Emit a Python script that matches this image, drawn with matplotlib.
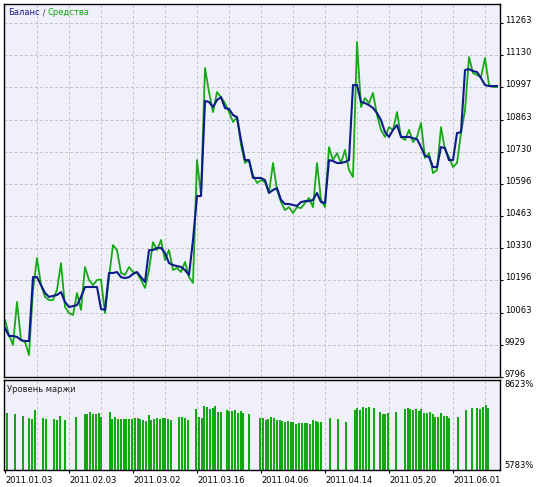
import numpy as np
import matplotlib
matplotlib.use("Agg")
import matplotlib.pyplot as plt
from matplotlib.offsetbox import TextArea, HPacker, AnchoredOffsetbox

# balance / equity, one value per point
balance = [9999, 9966, 9966, 9962, 9949, 9945, 9945, 10210, 10210, 10177,
           10144, 10128, 10132, 10136, 10148, 10107, 10086, 10090, 10094, 10128,
           10169, 10169, 10169, 10169, 10078, 10074, 10227, 10227, 10231, 10210,
           10206, 10210, 10223, 10231, 10210, 10190, 10322, 10322, 10331, 10331,
           10310, 10268, 10260, 10256, 10252, 10239, 10219, 10364, 10546, 10546,
           10940, 10936, 10915, 10944, 10956, 10911, 10907, 10882, 10873, 10778,
           10695, 10695, 10621, 10621, 10621, 10612, 10559, 10571, 10579, 10530,
           10513, 10513, 10509, 10505, 10521, 10525, 10525, 10530, 10559, 10521,
           10517, 10695, 10691, 10683, 10683, 10687, 10695, 11006, 11006, 10936,
           10931, 10923, 10911, 10890, 10861, 10811, 10791, 10820, 10840, 10791,
           10791, 10791, 10786, 10782, 10749, 10712, 10708, 10666, 10666, 10749,
           10745, 10695, 10695, 10807, 10811, 11068, 11072, 11064, 11060, 11035,
           11006, 11002, 11002, 11002]
equity = [10032, 9970, 9929, 10107, 9949, 9941, 9887, 10157, 10289, 10177,
          10128, 10115, 10115, 10157, 10268, 10086, 10061, 10053, 10144, 10074,
          10252, 10198, 10177, 10198, 10200, 10061, 10210, 10343, 10322, 10227,
          10219, 10252, 10231, 10227, 10198, 10165, 10239, 10355, 10322, 10364,
          10281, 10322, 10239, 10248, 10231, 10273, 10210, 10186, 10695, 10550,
          11077, 10977, 10894, 10977, 10956, 10931, 10894, 10853, 10873, 10757,
          10683, 10695, 10633, 10600, 10612, 10604, 10559, 10683, 10571, 10521,
          10488, 10500, 10476, 10500, 10496, 10517, 10538, 10500, 10683, 10530,
          10500, 10749, 10695, 10724, 10683, 10737, 10654, 10625, 11184, 10915,
          10952, 10931, 10973, 10882, 10820, 10791, 10832, 10820, 10894, 10791,
          10778, 10820, 10770, 10791, 10849, 10704, 10724, 10641, 10654, 10832,
          10737, 10708, 10666, 10683, 10807, 10902, 11122, 11056, 11048, 11039,
          11118, 11006, 10998, 10998]

# margin level (%) per deal slot
margin_slots = [0, 3, 6, 8, 9, 10, 13, 14, 17, 18, 19, 21, 25, 28, 29, 30, 31, 32, 33, 34,
                37, 38, 39, 40, 41, 42, 43, 44, 45, 46, 47, 48, 49, 50, 51, 52, 53, 54, 55, 56,
                57, 58, 59, 62, 63, 64, 65, 68, 69, 70, 71, 72, 73, 74, 75, 76, 77, 79, 80, 81,
                82, 83, 84, 85, 87, 91, 92, 93, 94, 95, 96, 97, 98, 99, 100, 101, 102, 103, 104, 105,
                106, 107, 108, 109, 110, 111, 112, 113, 116, 119, 122, 125, 126, 127, 128, 129, 130, 132, 134, 135,
                136, 137, 140, 143, 144, 145, 146, 147, 148, 149, 150, 151, 152, 153, 154, 155, 156, 157, 158, 159,
                162, 165, 167, 169, 170, 171, 172, 173]
margin_level = [7572, 7560, 7497, 7434, 7402, 7677, 7434, 7402, 7402, 7370, 7497, 7370, 7465, 7550, 7541, 7613, 7541, 7541, 7591, 7465,
                7623, 7402, 7465, 7402, 7402, 7402, 7402, 7402, 7402, 7434, 7415, 7402, 7370, 7329, 7528, 7370, 7393, 7434, 7393, 7434,
                7434, 7402, 7370, 7465, 7465, 7434, 7370, 7708, 7465, 7434, 7803, 7771, 7699, 7740, 7812, 7613, 7613, 7677, 7654, 7654,
                7677, 7591, 7636, 7572, 7550, 7434, 7434, 7361, 7383, 7465, 7415, 7361, 7361, 7339, 7307, 7329, 7288, 7307, 7244, 7266,
                7266, 7266, 7266, 7244, 7361, 7329, 7307, 7288, 7424, 7393, 7307, 7667, 7730, 7677, 7762, 7740, 7762, 7740, 7613, 7560,
                7560, 7591, 7613, 7708, 7730, 7708, 7686, 7708, 7645, 7708, 7591, 7591, 7613, 7541, 7465, 7465, 7591, 7487, 7497, 7415,
                7456, 7686, 7730, 7730, 7708, 7762, 7844, 7740]

y_ticks = [9796, 9929, 10063, 10196, 10330, 10463, 10596, 10730, 10863, 10997, 11130, 11263]
margin_ticks = [5783, 8623]
date_labels = ['2011.01.03', '2011.02.03', '2011.03.02', '2011.03.16',
               '2011.04.06', '2011.04.14', '2011.05.20', '2011.06.01']

bg = '#f0f0fa'
grid_kw = dict(color='#c4c4c8', linestyle=(0, (3, 2.2)), linewidth=0.7)
fs = 6

W, H = 545, 487
fig = plt.figure(figsize=(W / 100, H / 100), dpi=100)
ax1 = fig.add_axes([4 / W, (H - 377) / H, 496 / W, 373 / H])
ax2 = fig.add_axes([4 / W, (H - 470) / H, 496 / W, 90 / H])

x = np.arange(len(balance))
xlim1 = (-0.25, 123.75)
xlim2 = (-0.97, 177.2)

for ax in (ax1, ax2):
    ax.set_facecolor(bg)
    for s in ax.spines.values():
        s.set_color('black')
        s.set_linewidth(1.0)

ax1.plot(x, equity, color='#17a817', lw=1.3, zorder=2)
ax1.plot(x, balance, color='#0c1a8a', lw=1.5, zorder=3)
ax1.set_xlim(*xlim1)
ax1.set_ylim(9796, 11342)

grid_i = np.arange(0, 121, 8)
for g in grid_i[1:]:
    ax1.axvline(g, zorder=1, **grid_kw)
for t in y_ticks[1:]:
    ax1.axhline(t, zorder=1, **grid_kw)

ax1.yaxis.tick_right()
ax1.set_yticks(y_ticks)
ax1.set_yticklabels([str(t) for t in y_ticks], fontsize=fs, va='baseline')
ax1.tick_params(axis='y', length=2, width=0.8, pad=1.5)
ax1.set_xticks([])

title = HPacker(children=[TextArea('Баланс', textprops=dict(color='#1a1a8c', fontsize=fs)),
                          TextArea(' / ', textprops=dict(color='#404040', fontsize=fs)),
                          TextArea('Средства', textprops=dict(color='#14a814', fontsize=fs))],
                align='baseline', pad=0, sep=0)
ab = AnchoredOffsetbox(loc='upper left', child=title, pad=0, borderpad=0.3,
                       frameon=False, bbox_to_anchor=(0, 1), bbox_transform=ax1.transAxes)
ax1.add_artist(ab)

# margin panel
ax2.bar(margin_slots, margin_level, bottom=0, width=0.72, color='#12a812', zorder=2)
ax2.set_xlim(*xlim2)
ax2.set_ylim(5783, 8623)
frac = (grid_i - xlim1[0]) / (xlim1[1] - xlim1[0])
grid_k = xlim2[0] + frac * (xlim2[1] - xlim2[0])
for g in grid_k[1:]:
    ax2.axvline(g, zorder=1, **grid_kw)

ax2.yaxis.tick_right()
ax2.set_yticks(margin_ticks)
labs = ax2.set_yticklabels([f'{m}%' for m in margin_ticks], fontsize=fs)
labs[0].set_va('bottom')
labs[1].set_va('top')
ax2.tick_params(axis='y', length=0, pad=3.5)

ax2.set_xticks(grid_k[0::2])
ax2.set_xticklabels(date_labels, fontsize=fs, ha='left')
ax2.tick_params(axis='x', length=2.5, width=0.8, pad=1.5)

ax2.text(0.006, 0.95, 'Уровень маржи', transform=ax2.transAxes, fontsize=fs,
         color='#202020', va='top', ha='left')

fig.savefig('out.png', dpi=100, facecolor='white')
